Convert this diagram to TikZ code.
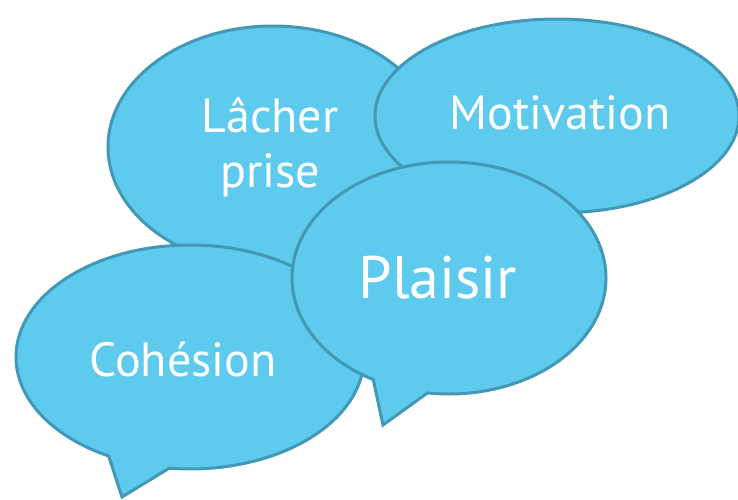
\documentclass[tikz,border=0pt]{standalone}
\usepackage{fontspec}
\setmainfont{PT Sans}
\usetikzlibrary{shapes.callouts}
\definecolor{bubblefill}{HTML}{5DCAEE}
\definecolor{bubbleline}{HTML}{4298B5}
\tikzset{
  bubble/.style={ellipse callout, draw=bubbleline, fill=bubblefill, line width=3pt, inner sep=0pt},
  bubbletext/.style={text=white, align=center, inner sep=0pt, font=\fontsize{48}{55}\selectfont},
}
\begin{document}
\begin{tikzpicture}[x=1pt, y=-1pt]
\useasboundingbox (0,0) rectangle (738,499);
% bubbles, back to front
\node[bubble, minimum width=330pt, minimum height=242pt, callout pointer arc=22,
  callout absolute pointer={(215,290)}] (lacher) at (273,147) {};
\node[bubbletext] (lachertxt) at (270,147) {Lâcher\\prise};
\node[bubble, minimum width=364pt, minimum height=194pt, callout pointer arc=22,
  callout absolute pointer={(520,250)}] (motiv) at (557,116) {};
\node[bubbletext] (motivtxt) at (560,113) {Motivation};
\node[bubble, minimum width=348pt, minimum height=224pt, callout pointer arc=21,
  callout absolute pointer={(122,497)}] (cohes) at (190,357) {};
\node[bubbletext] (cohestxt) at (183,359) {Cohésion};
\node[bubble, minimum width=314pt, minimum height=232pt, callout pointer arc=21,
  callout absolute pointer={(383,425)}] (plaisir) at (449,278) {};
\node[bubbletext, font=\fontsize{60}{70}\selectfont] (plaisirtxt) at (438,278) {Plaisir};
\end{tikzpicture}
\end{document}
